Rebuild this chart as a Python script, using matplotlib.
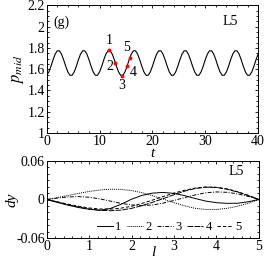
import numpy as np
import matplotlib
matplotlib.use("Agg")
import matplotlib.pyplot as plt
from matplotlib.ticker import MultipleLocator

plt.rcParams['font.family'] = ['Liberation Serif', 'DejaVu Serif']
plt.rcParams['mathtext.fontset'] = 'stix'
plt.rcParams['axes.unicode_minus'] = False

# top panel: p_mid(t), sampled every 0.4
t = np.linspace(0, 40, 101)
p_cycle = [1.543, 1.574, 1.627, 1.689, 1.742, 1.773,
           1.773, 1.742, 1.689, 1.627, 1.574, 1.543]
p_mid = (p_cycle * 9)[:101]

# marked instants 1..5
pt_labels = ['1', '2', '3', '4', '5']
pt_t = [11.8, 13.0, 14.2, 15.2, 15.7]
pt_p = [1.777, 1.658, 1.539, 1.627, 1.704]
lab_t = [11.8, 11.9, 14.2, 16.4, 15.2]
lab_p = [1.87, 1.63, 1.45, 1.57, 1.80]

# bottom panel: dy(l) at the five instants
l = np.linspace(0, 5, 21)
dy1 = [0, -0.0045, -0.0088, -0.0125, -0.0152, -0.0168, -0.0140, -0.0075, 0.0005, 0.0065,
       0.0100, 0.0110, 0.0095, 0.0060, 0.0015, -0.0025, -0.0050, -0.0060, -0.0058, -0.0035, 0]
dy2 = [0, 0.0030, 0.0062, 0.0095, 0.0125, 0.0148, 0.0160, 0.0158, 0.0140, 0.0105,
       0.0058, 0.0005, -0.0050, -0.0100, -0.0138, -0.0155, -0.0155, -0.0138, -0.0105, -0.0058, 0]
dy3 = [0, 0.0022, 0.0040, 0.0045, 0.0035, 0.0010, -0.0025, -0.0060, -0.0085, -0.0095,
       -0.0085, -0.0055, -0.0015, 0.0030, 0.0072, 0.0105, 0.0118, 0.0112, 0.0088, 0.0048, 0]
dy4 = [0, -0.0040, -0.0082, -0.0118, -0.0148, -0.0168, -0.0175, -0.0165, -0.0138, -0.0095,
       -0.0042, 0.0015, 0.0075, 0.0130, 0.0172, 0.0192, 0.0188, 0.0160, 0.0115, 0.0060, 0]
dy5 = [0, -0.0035, -0.0072, -0.0105, -0.0132, -0.0148, -0.0150, -0.0135, -0.0105, -0.0060,
       -0.0008, 0.0048, 0.0100, 0.0145, 0.0178, 0.0195, 0.0190, 0.0165, 0.0122, 0.0065, 0]
profiles = [dy1, dy2, dy3, dy4, dy5]
styles = ['-', (0, (1, 1)), (0, (4, 1.5, 1, 1.5)), (0, (6, 1.2)), (0, (3.5, 2))]

fig = plt.figure(figsize=(2.7, 2.57), dpi=100)
ax1 = fig.add_axes([0.173, 0.4825, 0.783, 0.4965])
ax2 = fig.add_axes([0.173, 0.074, 0.786, 0.2995])

def style(ax):
    ax.tick_params(which='both', direction='in', top=True, right=True,
                   labelsize=10, pad=1.5, width=0.6)
    ax.tick_params(which='major', length=2.5)
    ax.tick_params(which='minor', length=1.3)
    for s in ax.spines.values():
        s.set_linewidth(0.7)

ax1.plot(t, p_mid, color='black', lw=0.8)
ax1.plot(pt_t, pt_p, 'o', color='red', ms=2.8, mec='none')
for s, x, y in zip(pt_labels, lab_t, lab_p):
    ax1.text(x, y, s, fontsize=10, ha='center', va='center')
ax1.set_xlim(0, 40)
ax1.set_ylim(1, 2.2)
ax1.xaxis.set_major_locator(MultipleLocator(10))
ax1.xaxis.set_minor_locator(MultipleLocator(2))
ax1.yaxis.set_minor_locator(MultipleLocator(0.05))
ax1.set_yticks([1, 1.2, 1.4, 1.6, 1.8, 2, 2.2])
ax1.set_yticklabels(['1', '1.2', '1.4', '1.6', '1.8', '2', '2.2'])
ax1.set_xlabel('t', fontsize=11, style='italic', labelpad=-1)
ax1.set_ylabel(r'$p_{mid}$', fontsize=12, labelpad=1)
ax1.text(0.03, 0.865, '(g)', transform=ax1.transAxes, fontsize=10, va='center')
ax1.text(0.905, 0.87, 'L5', transform=ax1.transAxes, fontsize=10, ha='right', va='center')
style(ax1)

for i, d in enumerate(profiles):
    ax2.plot(l, d, color='black', lw=0.7, linestyle=styles[i], label=pt_labels[i])
ax2.set_xlim(0, 5)
ax2.set_ylim(-0.06, 0.06)
ax2.set_yticks([-0.06, 0, 0.06])
ax2.set_yticklabels(['-0.06', '0', '0.06'])
ax2.xaxis.set_major_locator(MultipleLocator(1))
ax2.xaxis.set_minor_locator(MultipleLocator(0.2))
ax2.yaxis.set_minor_locator(MultipleLocator(0.01))
ax2.set_xlabel('l', fontsize=11, style='italic', labelpad=-5)
ax2.set_ylabel('dy', fontsize=11, style='italic', labelpad=-2)
ax2.text(0.93, 0.87, 'L5', transform=ax2.transAxes, fontsize=10, ha='right', va='center')
ax2.legend(loc='lower right', ncol=5, frameon=False, fontsize=9, handlelength=1.25,
           handletextpad=0.2, columnspacing=0.45, borderaxespad=0.1, borderpad=0.1,
           bbox_to_anchor=(0.93, 0.03))
style(ax2)

fig.savefig('out.png', dpi=100)
